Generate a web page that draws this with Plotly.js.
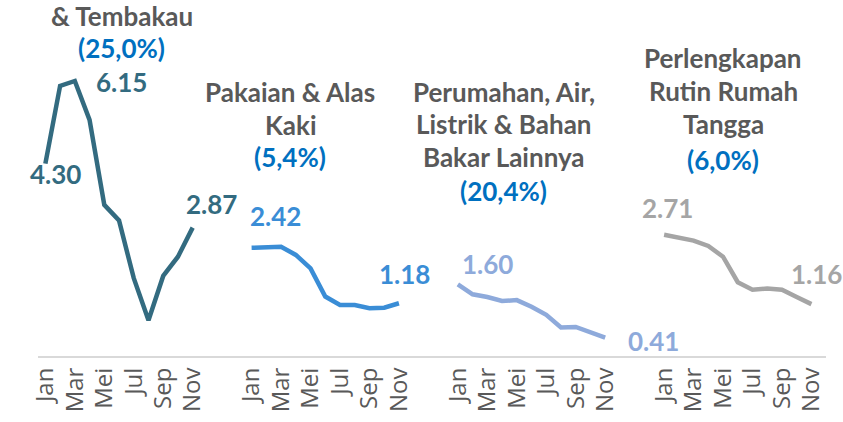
<!DOCTYPE html>
<html>
<head>
<meta charset="utf-8">
<script src="https://cdn.plot.ly/plotly-3.0.1.min.js"></script>
<style>
html,body{margin:0;padding:0;background:#fff;}
#chart{width:843px;height:422px;}
</style>
</head>
<body>
<div id="chart"></div>
<script>
// Months (Indonesian) and which are labelled on the axis
const months = ['Jan','Feb','Mar','Apr','Mei','Jun','Jul','Agu','Sep','Okt','Nov'];
const shownMonths = ['Jan','Mar','Mei','Jul','Sep','Nov'];

// Series values (inflation yoy, %)
const makanan    = [4.30, 6.04, 6.15, 5.28, 3.38, 3.03, 1.74, 0.80, 1.79, 2.22, 2.87];
const pakaian    = [2.42, 2.44, 2.44, 2.26, 1.96, 1.33, 1.14, 1.14, 1.07, 1.08, 1.18];
const perumahan  = [1.60, 1.38, 1.32, 1.23, 1.25, 1.10, 0.92, 0.64, 0.65, 0.54, 0.41];
const perlengkap = [2.71, 2.65, 2.58, 2.46, 2.22, 1.65, 1.48, 1.51, 1.48, 1.32, 1.16];

const groupTitles = [
  ['& Tembakau'],
  ['Pakaian & Alas', 'Kaki'],
  ['Perumahan, Air,', 'Listrik & Bahan', 'Bakar Lainnya'],
  ['Perlengkapan', 'Rutin Rumah', 'Tangga']
];
const weights = ['(25,0%)', '(5,4%)', '(20,4%)', '(6,0%)'];

const series = [makanan, pakaian, perumahan, perlengkap];
const colors = ['#336B80', '#3A8DD6', '#8EAADB', '#A5A5A5'];
const GAP = 3; // empty category slots between groups
const period = months.length + GAP;

const traces = series.map((vals, g) => ({
  type: 'scatter', mode: 'lines',
  x: months.map((m, i) => g * period + i),
  y: vals,
  line: {color: colors[g], width: 4.5, shape: 'linear'},
  hoverinfo: 'skip', showlegend: false, cliponaxis: false
}));

const tickvals = [], ticktext = [];
for (let g = 0; g < 4; g++) {
  months.forEach((m, i) => {
    if (shownMonths.includes(m)) { tickvals.push(g * period + i); ticktext.push(m); }
  });
}

const FONT = 'Lato, "Open Sans", sans-serif';
const grey = '#595959', blue = '#0070C0';
const ann = [];
function add(text, x, y, color, size) {
  ann.push({text: '<b>' + text + '</b>', x: x, y: y, xref: 'x', yref: 'y',
    showarrow: false, xanchor: 'center', yanchor: 'middle',
    font: {family: FONT, size: size || 26, color: color}});
}
// Group title positions (layout only)
const titlePos = [
  {x: 5.2, y: [7.60], w: 6.88},
  {x: 16.62, y: [5.90, 5.16], w: 4.45},
  {x: 31.1, y: [5.90, 5.18], w0: 4.45, w: 3.69},
  {x: 46.0, y: [6.67, 5.92, 5.18], w: 4.38}
];
titlePos.forEach((p, g) => {
  groupTitles[g].forEach((t, k) => {
    const yy = (p.y[k] !== undefined) ? p.y[k] : p.w0;
    add(t, p.x, yy, grey);
  });
  add(weights[g], p.x, p.w, blue);
});
// Value labels at first / peak / last points
add(makanan[2].toFixed(2), 5.2, 6.12, colors[0]);
add(makanan[0].toFixed(2), 0.7, 4.06, colors[0]);
add(makanan[10].toFixed(2), 11.26, 3.4, colors[0]);
add(pakaian[0].toFixed(2), 15.6, 3.14, colors[1]);
add(pakaian[10].toFixed(2), 24.4, 1.83, colors[1]);
add(perumahan[0].toFixed(2), 29.98, 2.05, colors[2]);
add(perumahan[10].toFixed(2), 41.3, 0.33, colors[2]);
add(perlengkap[0].toFixed(2), 42.2, 3.32, colors[3]);
add(perlengkap[10].toFixed(2), 52.35, 1.84, colors[3]);

const layout = {
  width: 843, height: 422,
  margin: {l: 37.6, r: 17, t: 0, b: 66},
  paper_bgcolor: '#ffffff', plot_bgcolor: '#ffffff',
  showlegend: false,
  xaxis: {
    range: [-0.5, 52.99],
    tickvals: tickvals, ticktext: ticktext, tickangle: -90,
    tickfont: {family: '"Open Sans", sans-serif', size: 24, color: grey},
    showgrid: false, zeroline: false, showline: true,
    linecolor: '#D9D9D9', linewidth: 2, ticks: '', fixedrange: true
  },
  yaxis: {
    range: [0, 7.96], visible: false, showgrid: false, zeroline: false, fixedrange: true
  },
  annotations: ann
};
Plotly.newPlot('chart', traces, layout, {displayModeBar: false, staticPlot: true});
</script>
</body>
</html>
